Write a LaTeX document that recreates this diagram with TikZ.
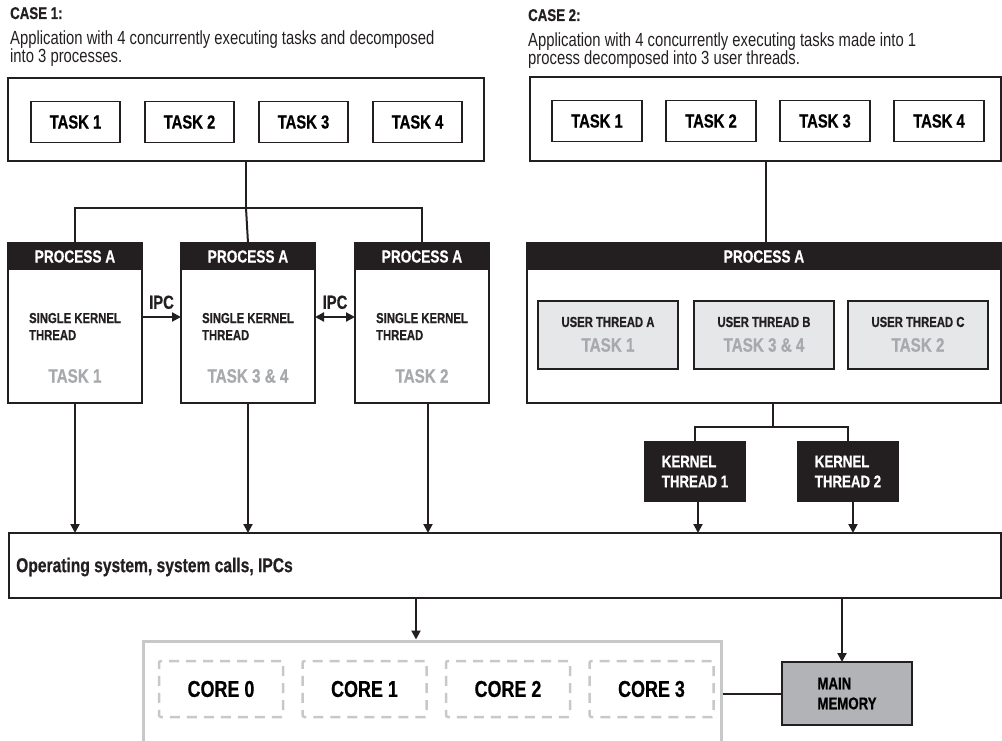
\documentclass[tikz,border=0pt]{standalone}
\usepackage{fontspec}
\setmainfont{Liberation Sans}[FakeStretch=0.78, BoldFeatures={FakeBold=0.6}]
\usetikzlibrary{arrows.meta,positioning}

\definecolor{inkblack}{HTML}{231F20}
\definecolor{taskgrey}{HTML}{A7A9AC}
\definecolor{threadfill}{HTML}{E6E7E8}
\definecolor{memfill}{HTML}{B1B3B6}
\definecolor{coregrey}{HTML}{C7C8CA}

\tikzset{
  box/.style={draw=inkblack, line width=1.2pt, inner sep=0pt, outer sep=0pt},
  title/.style={font=\bfseries\fontsize{17}{18}\selectfont, inner sep=0pt, text=inkblack},
  desc/.style={font=\fontsize{19}{18}\selectfont, inner sep=0pt, align=left, text=inkblack},
  task/.style={box, minimum width=89pt, minimum height=41pt, font=\bfseries\fontsize{19}{20}\selectfont},
  proc/.style={box, minimum width=134pt, minimum height=160pt},
  prochead/.style={fill=inkblack, text=white, inner sep=0pt, outer sep=0pt, minimum height=27pt,
    font=\bfseries\fontsize{17.5}{18}\selectfont},
  note/.style={font=\bfseries\fontsize{14.5}{17}\selectfont, align=left, inner sep=0pt, text=inkblack},
  greytask/.style={text=taskgrey, font=\bfseries\fontsize{19.5}{20}\selectfont, inner sep=0pt},
  uthread/.style={box, fill=threadfill, minimum width=140pt, minimum height=68pt},
  kthread/.style={fill=inkblack, text=white, inner sep=0pt, outer sep=0pt, minimum width=102pt,
    minimum height=61pt, align=left, font=\bfseries\fontsize{17}{20}\selectfont},
  core/.style={draw=coregrey, line width=2.5pt, dash pattern=on 10pt off 7pt, rounded corners=2pt,
    inner sep=0pt, minimum width=124pt, minimum height=56pt, font=\bfseries\fontsize{23}{24}\selectfont},
  mem/.style={box, fill=memfill, minimum width=130pt, minimum height=63pt, align=left,
    font=\bfseries\fontsize{17}{20}\selectfont},
  conn/.style={line width=2pt, draw=inkblack},
  arr/.style={conn, -{Triangle[length=9pt,width=9pt]}},
  darr/.style={conn, {Triangle[length=9pt,width=9pt]}-{Triangle[length=9pt,width=9pt]}},
}

\begin{document}
\begin{tikzpicture}[x=1pt, y=-1pt]
  \useasboundingbox (0,0) rectangle (1002,741);

  % case 1
  \node[title, anchor=base west] (case1) at (10,19) {CASE 1:};
  \node[desc, anchor=north west] (desc1) at (10,30.5)
    {Application with 4 concurrently executing tasks and decomposed\\into 3 processes.};

  \node[box, minimum width=476pt, minimum height=83pt] (app1) at (246,119.5) {};
  \node[task] (t1) at (75.5,122)      {TASK 1};
  \node[task] (t2) [right=25pt of t1] {TASK 2};
  \node[task] (t3) [right=25pt of t2] {TASK 3};
  \node[task] (t4) [right=25pt of t3] {TASK 4};

  \node[proc] (p1) at (75,323)         {};
  \node[proc] (p2) [right=39pt of p1]  {};
  \node[proc] (p3) [right=40pt of p2]  {};
  \node[prochead, anchor=north, minimum width=134pt] (p1head) at (p1.north) {PROCESS A};
  \node[prochead, anchor=north, minimum width=134pt] (p2head) at (p2.north) {PROCESS A};
  \node[prochead, anchor=north, minimum width=134pt] (p3head) at (p3.north) {PROCESS A};

  \node[note] (p1note) at ([yshift=-3.5pt]p1.center) {SINGLE KERNEL\\THREAD};
  \node[note] (p2note) at ([yshift=-3.5pt]p2.center) {SINGLE KERNEL\\THREAD};
  \node[note] (p3note) at ([yshift=-3.5pt]p3.center) {SINGLE KERNEL\\THREAD};
  \node[greytask] (p1task) at ([yshift=-53pt]p1.center) {TASK 1};
  \node[greytask] (p2task) at ([yshift=-53pt]p2.center) {TASK 3 \& 4};
  \node[greytask] (p3task) at ([yshift=-53pt]p3.center) {TASK 2};

  \coordinate (split1) at (246,208);
  \draw[conn] (app1.south) -- (split1);
  \draw[conn] (p1.north) |- (split1) -| (p3.north);
  \draw[conn] (split1) -- (p2.north);

  \draw[arr] ([yshift=6pt]p1.east) -- node[title, above=7pt, font=\bfseries\fontsize{19}{20}\selectfont] (ipc1) {IPC} ([yshift=6pt]p2.west);
  \draw[darr] ([yshift=6pt]p2.east) -- node[title, above=7pt, font=\bfseries\fontsize{19}{20}\selectfont] (ipc2) {IPC} ([yshift=6pt]p3.west);

  % case 2
  \node[title, anchor=base west] (case2) at (528,21) {CASE 2:};
  \node[desc, anchor=north west] (desc2) at (528,33)
    {Application with 4 concurrently executing tasks made into 1\\process decomposed into 3 user threads.};

  \node[box, minimum width=471pt, minimum height=84pt] (app2) at (765.5,119) {};
  \node[task, minimum width=90pt] (r1) at (597,121)      {TASK 1};
  \node[task, minimum width=90pt] (r2) [right=24pt of r1] {TASK 2};
  \node[task, minimum width=90pt] (r3) [right=24pt of r2] {TASK 3};
  \node[task, minimum width=90pt] (r4) [right=24pt of r3] {TASK 4};

  \node[box, minimum width=474pt, minimum height=160pt] (pbig) at (764,323) {};
  \node[prochead, anchor=north, minimum width=474pt] (pbighead) at (pbig.north) {PROCESS A};
  \draw[conn] (app2.south) -- (app2.south |- pbig.north);

  \node[uthread] (ua) at (608,335)      {};
  \node[uthread] (ub) [right=16pt of ua] {};
  \node[uthread] (uc) [right=14pt of ub] {};
  \node[note] (ualabel) at ([yshift=13pt]ua.center) {USER THREAD A};
  \node[note] (ublabel) at ([yshift=13pt]ub.center) {USER THREAD B};
  \node[note] (uclabel) at ([yshift=13pt]uc.center) {USER THREAD C};
  \node[greytask] (uatask) at ([yshift=-10pt]ua.center) {TASK 1};
  \node[greytask] (ubtask) at ([yshift=-10pt]ub.center) {TASK 3 \& 4};
  \node[greytask] (uctask) at ([yshift=-10pt]uc.center) {TASK 2};

  \node[kthread] (kt1) at (695,471.5)     {KERNEL\\THREAD 1};
  \node[kthread] (kt2) [right=51pt of kt1] {KERNEL\\THREAD 2};

  \coordinate (split2) at (773,427);
  \draw[conn] (split2 |- pbig.south) -- (split2);
  \draw[conn] (kt1.north) |- (split2) -| (kt2.north);

  % operating system and hardware
  \node[box, minimum width=992pt, minimum height=65pt] (os) at (505,565.5) {};
  \node[title, anchor=west, font=\bfseries\fontsize{20}{20}\selectfont] (oslabel) at (16,567)
    {Operating system, system calls, IPCs};

  \draw[arr] (p1.south) -- (p1.south |- os.north);
  \draw[arr] (p2.south) -- (p2.south |- os.north);
  \draw[arr] ([xshift=6pt]p3.south) -- ([xshift=6pt]p3.south |- os.north);
  \draw[arr] ([xshift=3pt]kt1.south) -- ([xshift=3pt]kt1.south |- os.north);
  \draw[arr] ([xshift=5pt]kt2.south) -- ([xshift=5pt]kt2.south |- os.north);

  \node[draw=coregrey, line width=3pt, inner sep=0pt, minimum width=578pt, minimum height=109pt] (mc) at (432,695.5) {};
  \node[core] (c0) at (221,689)       {CORE 0};
  \node[core] (c1) [right=17pt of c0] {CORE 1};
  \node[core] (c2) [right=17pt of c1] {CORE 2};
  \node[core] (c3) [right=17pt of c2] {CORE 3};

  \node[mem] (mem) at (847,693.5) {MAIN\\MEMORY};

  \draw[arr] ([xshift=-16pt]mc.north |- os.south) -- ([xshift=-16pt]mc.north);
  \draw[arr] ([xshift=-5pt]mem.north |- os.south) -- ([xshift=-5pt]mem.north);
  \draw[conn] (mc.east |- mem.west) -- (mem.west);
\end{tikzpicture}
\end{document}
